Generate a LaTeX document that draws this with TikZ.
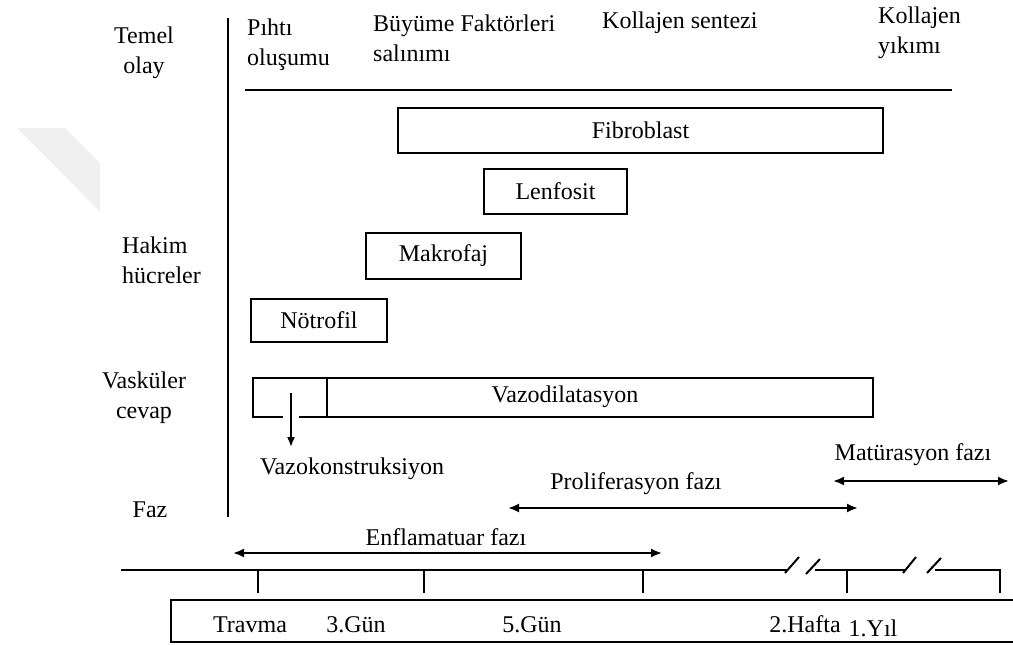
\documentclass[tikz,border=0pt]{standalone}
\usepackage{fontspec}
\setmainfont{Liberation Serif}
\usetikzlibrary{positioning,arrows.meta}

\begin{document}
\begin{tikzpicture}[x=1pt, y=-1pt,
    every node/.style={font=\fontsize{24}{30}\selectfont, inner sep=0pt},
    hucre/.style={draw, line width=1.6pt, minimum height=45pt},
    fazok/.style={{Latex[length=11pt,width=9pt]}-{Latex[length=11pt,width=9pt]}, line width=2pt},
    cizgi/.style={line width=2pt}]
  \useasboundingbox (0,0) rectangle (1013,645);
  \fill[black!6] (17,128) -- (65,128) -- (100,163) -- (100,212) -- cycle;

  % sol basliklar
  \node[align=center] (temel) at (144,53) {Temel\\olay};
  \node[align=left, anchor=west] (hakim) at (122,260) {Hakim\\hücreler};
  \node[align=center] (vask) at (144,398) {Vasküler\\cevap};
  \node (faz) at (150,510) {Faz};

  \draw[cizgi] (228,18) -- (228,517);
  \draw[cizgi] (245,90) -- (952,90);

  % temel olaylar
  \node[align=left, anchor=west] (pihti) at (247,45) {Pıhtı\\oluşumu};
  \node[align=left, anchor=west] (buyume) at (373,38) {Büyüme Faktörleri\\salınımı};
  \node[anchor=west] (sentez) at (602,23) {Kollajen sentezi};
  \node[align=left, anchor=west] (yikim) at (878,33) {Kollajen\\yıkımı};

  % hakim hucreler
  \node[hucre, minimum width=485pt] (fibro) at (640.5,130.5) {Fibroblast};
  \node[hucre, minimum width=143pt] (lenfo) at (555.5,191.5) {Lenfosit};
  \node[hucre, minimum width=155pt, minimum height=46pt] (makro) at (443.5,256) {Makrofaj};
  \node[hucre, minimum width=136pt, minimum height=43pt] (notro) at (319,320.5) {Nötrofil};

  % vaskuler cevap
  \node[hucre, minimum width=74pt, minimum height=39pt] (vk) at (290,397.5) {};
  \node[hucre, minimum width=546pt, minimum height=39pt] (vd) at (600,397.5) {};
  \node (vdyazi) at (565,397) {Vazodilatasyon};
  \coordinate (vkbas) at (291,393);
  \coordinate (vkuc) at (291,447);
  \draw[white, line width=16pt] (291,412) -- (291,422);
  \draw[line width=1.6pt, -{Latex[length=10pt,width=8pt]}] (vkbas) -- (vkuc);
  \node (vkyazi) at (352,469) {Vazokonstruksiyon};

  % fazlar
  \node (matur) at (913,455) {Matürasyon fazı};
  \coordinate (maturL) at (833,481);
  \coordinate (maturR) at (1009,481);
  \draw[fazok] (maturL) -- (maturR);
  \node (prolif) at (636,484) {Proliferasyon fazı};
  \coordinate (prolifL) at (508,508);
  \coordinate (prolifR) at (858,508);
  \draw[fazok] (prolifL) -- (prolifR);
  \node (enflam) at (446,537) {Enflamatuar fazı};
  \coordinate (enflamL) at (233,553);
  \coordinate (enflamR) at (662,553);
  \draw[fazok] (enflamL) -- (enflamR);

  % zaman ekseni
  \draw[cizgi] (121,570) -- (787,570);
  \draw[cizgi] (785,573) -- (799,557);
  \draw[cizgi] (806,574) -- (820,559);
  \draw[cizgi] (815,570) -- (905,570);
  \draw[cizgi] (903,573) -- (916,557);
  \draw[cizgi] (927,573) -- (941,558);
  \draw[cizgi] (935,570) -- (1000,570) -- (1000,593);
  \foreach \t in {258,424,643,847}
    \draw[cizgi] (\t,570) -- (\t,593);

  \draw[cizgi] (1020,600) -- (171,600) -- (171,642) -- (1020,642);
  \node (travma) at (250,625) {Travma};
  \node (gun3) at (356,625) {3.Gün};
  \node (gun5) at (532,625) {5.Gün};
  \node (hafta2) at (805,624) {2.Hafta};
  \node (yil1) at (873,628) {1.Yıl};
\end{tikzpicture}
\end{document}
